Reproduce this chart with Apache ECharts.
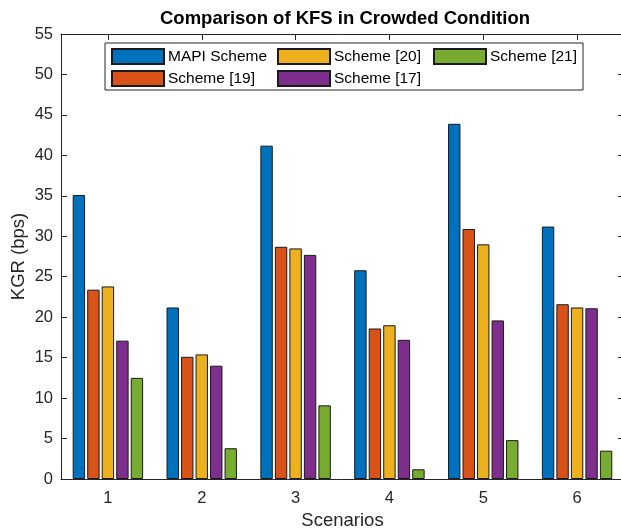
<!DOCTYPE html>
<html>
<head>
<meta charset="utf-8">
<script src="https://cdn.jsdelivr.net/npm/echarts@6/dist/echarts.min.js"></script>
<style>
html, body { margin: 0; padding: 0; background: #fff; }
#chart { width: 621px; height: 532px; }
</style>
</head>
<body>
<div id="chart"></div>
<script>
// ---- Data ----
const categories = ['1', '2', '3', '4', '5', '6'];
const seriesNames = ['MAPI Scheme', 'Scheme [19]', 'Scheme [20]', 'Scheme [17]', 'Scheme [21]'];
const mapiScheme = [35.1, 21.2, 41.2, 25.8, 43.9, 31.2];
const scheme19 = [23.4, 15.1, 28.7, 18.6, 30.9, 21.6];
const scheme20 = [23.8, 15.4, 28.5, 19.0, 29.0, 21.2];
const scheme17 = [17.1, 14.0, 27.7, 17.2, 19.6, 21.1];
const scheme21 = [12.5, 3.8, 9.1, 1.2, 4.8, 3.5];
const yTicks = { min: 0, max: 55, interval: 5 };
const legendOrder = ['MAPI Scheme', 'Scheme [20]', 'Scheme [21]', 'Scheme [19]', 'Scheme [17]'];

// ---- Styling ----
const colors = ['#0072BD', '#D95319', '#EDB120', '#7E2F8E', '#77AC30'];
const FONT = "'Liberation Sans', Arial, Helvetica, sans-serif";
const AX = '#262626';
const values = [mapiScheme, scheme19, scheme20, scheme17, scheme21];

const chart = echarts.init(document.getElementById('chart'), null, { renderer: 'canvas' });

const series = seriesNames.map((name, i) => ({
  name: name,
  type: 'bar',
  data: values[i],
  barWidth: 12.4,
  barGap: '17%',
  itemStyle: { color: colors[i], borderColor: '#1a1a1a', borderWidth: 1 },
  emphasis: { disabled: true },
  animation: false
}));

const colStyle = {
  'MAPI Scheme': 'a', 'Scheme [19]': 'a',
  'Scheme [20]': 'b', 'Scheme [17]': 'b',
  'Scheme [21]': 'c'
};

const option = {
  animation: false,
  backgroundColor: '#ffffff',
  title: {
    text: 'Comparison of KFS in Crowded Condition',
    left: 340, top: 4,
    textAlign: 'center',
    textStyle: { fontFamily: FONT, fontSize: 18.5, fontWeight: 'bold', color: '#000' }
  },
  legend: {
    data: legendOrder,
    left: 105, top: 43,
    width: 480,
    orient: 'horizontal',
    padding: [5, 6, 3, 6],
    itemGap: 5,
    itemWidth: 52,
    itemHeight: 15,
    icon: 'rect',
    borderColor: AX,
    borderWidth: 1,
    backgroundColor: '#fff',
    selectedMode: false,
    formatter: name => '{' + colStyle[name] + '|' + name + '}',
    textStyle: {
      fontFamily: FONT, fontSize: 15.5, color: '#000', padding: [0, 0, 0, -1],
      rich: {
        a: { width: 104, fontFamily: FONT, fontSize: 15.5, lineHeight: 15, color: '#000' },
        b: { width: 94, fontFamily: FONT, fontSize: 15.5, lineHeight: 15, color: '#000' },
        c: { width: 86, fontFamily: FONT, fontSize: 15.5, lineHeight: 15, color: '#000' }
      }
    }
  },
  grid: { left: 61, top: 34, width: 563, height: 445, containLabel: false, outerBoundsMode: 'none' },
  xAxis: [
    {
      type: 'category',
      data: categories,
      position: 'bottom',
      name: 'Scenarios',
      nameLocation: 'middle',
      nameGap: 32,
      nameTextStyle: { fontFamily: FONT, fontSize: 18.5, color: AX },
      axisLine: { show: true, onZero: false, lineStyle: { color: AX, width: 1 } },
      axisTick: { show: true, inside: true, alignWithLabel: true, length: 6, lineStyle: { color: AX } },
      axisLabel: { fontFamily: FONT, fontSize: 16.5, color: AX, margin: 11 },
      splitLine: { show: false }
    },
    {
      type: 'category',
      data: categories,
      position: 'top',
      axisLine: { show: true, onZero: false, lineStyle: { color: AX, width: 1 } },
      axisTick: { show: true, inside: true, alignWithLabel: true, length: 6, lineStyle: { color: AX } },
      axisLabel: { show: false },
      splitLine: { show: false }
    }
  ],
  yAxis: [
    {
      type: 'value',
      min: yTicks.min, max: yTicks.max, interval: yTicks.interval,
      position: 'left',
      name: 'KGR (bps)',
      nameLocation: 'middle',
      nameRotate: 90,
      nameGap: 33,
      nameMoveOverlap: false,
      nameTextStyle: { fontFamily: FONT, fontSize: 18.5, color: AX },
      axisLine: { show: true, onZero: false, lineStyle: { color: AX, width: 1 } },
      axisTick: { show: true, inside: true, length: 6, lineStyle: { color: AX } },
      axisLabel: { fontFamily: FONT, fontSize: 16.5, color: AX, margin: 8 },
      splitLine: { show: false }
    },
    {
      type: 'value',
      min: yTicks.min, max: yTicks.max, interval: yTicks.interval,
      position: 'right',
      axisLine: { show: true, onZero: false, lineStyle: { color: AX, width: 1 } },
      axisTick: { show: true, inside: true, length: 6, lineStyle: { color: AX } },
      axisLabel: { show: false },
      splitLine: { show: false }
    }
  ],
  series: series
};

chart.setOption(option);
</script>
</body>
</html>
